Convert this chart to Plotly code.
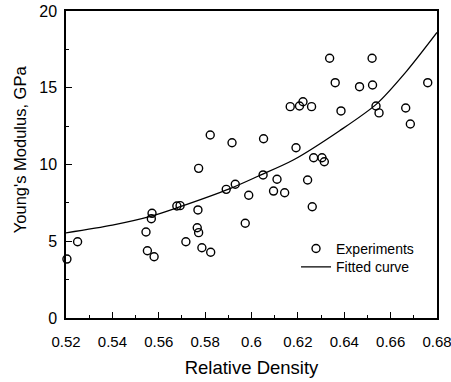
import plotly.graph_objects as go

# Experimental data: relative density vs Young's modulus (GPa)
exp_density = [0.5204, 0.525, 0.5545, 0.5551, 0.5571, 0.5568, 0.558, 0.5678, 0.5692,
               0.5717, 0.5769, 0.5766, 0.5772, 0.5772, 0.5786, 0.5822, 0.5824, 0.5891,
               0.5916, 0.593, 0.5973, 0.5988, 0.605, 0.6052, 0.6095, 0.611, 0.6143,
               0.6167, 0.6192, 0.6207, 0.6222, 0.6242, 0.6259, 0.6262, 0.6268, 0.6304,
               0.6314, 0.6337, 0.6361, 0.6386, 0.6466, 0.652, 0.6522, 0.6537, 0.655,
               0.6665, 0.6685, 0.676]
exp_modulus = [3.84, 4.97, 5.60, 4.38, 6.82, 6.47, 3.99, 7.30, 7.32,
               4.97, 7.04, 5.88, 5.56, 9.75, 4.58, 11.92, 4.28, 8.38,
               11.42, 8.71, 6.17, 8.00, 9.32, 11.68, 8.27, 9.04, 8.16,
               13.77, 11.09, 13.81, 14.09, 8.99, 13.77, 7.25, 10.44, 10.44,
               10.18, 16.92, 15.33, 13.49, 15.07, 16.92, 15.18, 13.81, 13.36,
               13.68, 12.64, 15.33]

# Fitted curve
fit_density = [0.52, 0.54, 0.556, 0.568, 0.591, 0.603, 0.618, 0.638, 0.654, 0.667, 0.68]
fit_modulus = [5.55, 6.05, 6.60, 7.19, 8.45, 9.25, 10.29, 12.2, 13.95, 16.1, 18.6]

x_ticks = [0.52, 0.54, 0.56, 0.58, 0.60, 0.62, 0.64, 0.66, 0.68]
x_tick_labels = ["0.52", "0.54", "0.56", "0.58", "0.6", "0.62", "0.64", "0.66", "0.68"]
y_ticks = [0, 5, 10, 15, 20]

FONT = "Liberation Sans, Arial, sans-serif"

fig = go.Figure()
fig.add_trace(go.Scatter(
    x=exp_density, y=exp_modulus, mode="markers", name="Experiments",
    marker=dict(symbol="circle-open", size=8, color="black", line=dict(width=1.4, color="black")),
    cliponaxis=False, legend="legend",
))
fig.add_trace(go.Scatter(
    x=fit_density, y=fit_modulus, mode="lines", name="Fitted curve",
    line=dict(color="black", width=1.3, shape="spline", smoothing=0.8),
    legend="legend2",
))

axis_common = dict(
    showline=True, linecolor="black", linewidth=1.5, mirror=True,
    ticks="inside", ticklen=6, tickwidth=1.2, tickcolor="black",
    showgrid=False, zeroline=False, automargin=False,
)

fig.update_xaxes(
    range=[0.52, 0.68], tickvals=x_ticks, ticktext=x_tick_labels,
    ticklabelstandoff=9, ticklabeloverflow="allow",
    tickfont=dict(family=FONT, size=15, color="black"),
    minor=dict(dtick=0.01, ticks="inside", ticklen=3, tickwidth=1.2, tickcolor="black", showgrid=False),
    title=dict(text="Relative Density", font=dict(family=FONT, size=18.5, color="black"), standoff=12),
    **axis_common,
)
fig.update_yaxes(
    range=[0, 20], tickvals=y_ticks,
    ticklabelstandoff=4, ticklabeloverflow="allow",
    tickfont=dict(family=FONT, size=16, color="black"),
    minor=dict(dtick=2.5, ticks="inside", ticklen=3, tickwidth=1.2, tickcolor="black", showgrid=False),
    **axis_common,
)

fig.add_annotation(
    text="Young's Modulus, GPa", textangle=-90,
    xref="paper", yref="paper", x=-0.124, y=0.55,
    xanchor="center", yanchor="middle", showarrow=False,
    font=dict(family=FONT, size=16.5, color="black"),
)

legend_common = dict(
    xanchor="left", yanchor="middle",
    bgcolor="rgba(0,0,0,0)", borderwidth=0,
    font=dict(family=FONT, size=14, color="black"),
    itemwidth=30,
)

fig.update_layout(
    width=451, height=382,
    margin=dict(l=66, r=14, t=11, b=64, autoexpand=False),
    plot_bgcolor="white", paper_bgcolor="white",
    showlegend=True,
    legend=dict(x=0.62, y=0.225, **legend_common),
    legend2=dict(x=0.62, y=0.165, **legend_common),
)

fig.write_html("out.html")
